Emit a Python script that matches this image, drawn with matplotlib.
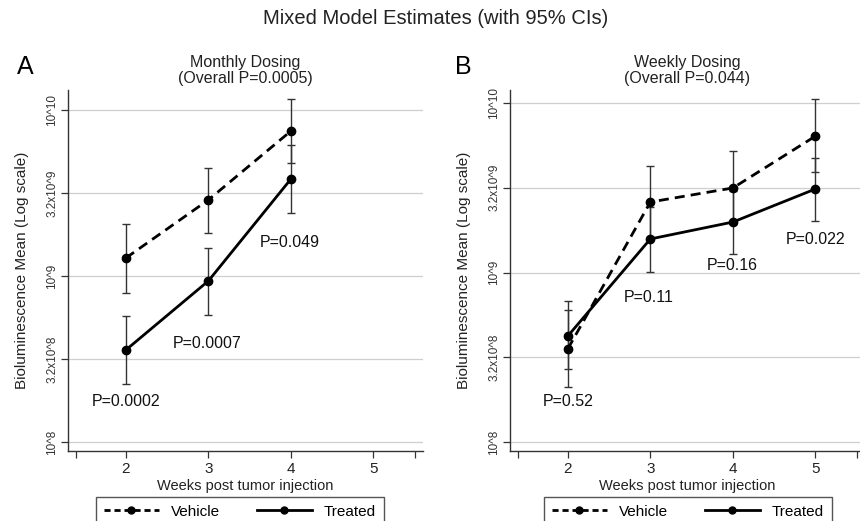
import numpy as np
import matplotlib
matplotlib.use("Agg")
import matplotlib.pyplot as plt
from matplotlib.lines import Line2D

plt.rcParams['font.family'] = ['Liberation Sans', 'DejaVu Sans']

W, H = 860, 521

# 數據 (log10 of bioluminescence)
weeks_a = [2, 3, 4]
vehicle_a = [9.108, 9.458, 9.873]
vehicle_a_lo = [8.898, 9.259, 9.681]
vehicle_a_hi = [9.313, 9.651, 10.066]
treated_a = [8.554, 8.970, 9.584]
treated_a_lo = [8.349, 8.765, 9.379]
treated_a_hi = [8.759, 9.169, 9.789]
pvals_a = ["P=0.0002", "P=0.0007", "P=0.049"]
ppos_a = [(2.0, 8.247), (2.98, 8.596), (3.99, 9.199)]

weeks_b = [2, 3, 4, 5]
vehicle_b = [8.549, 9.416, 9.499, 9.805]
vehicle_b_lo = [8.324, 9.204, 9.286, 9.593]
vehicle_b_hi = [8.779, 9.628, 9.717, 10.024]
treated_b = [8.625, 9.198, 9.298, 9.493]
treated_b_lo = [8.431, 9.003, 9.109, 9.304]
treated_b_hi = [8.832, 9.386, 9.481, 9.676]
pvals_b = ["P=0.52", "P=0.11", "P=0.16", "P=0.022"]
ppos_b = [(2.0, 8.242), (2.98, 8.850), (3.99, 9.044), (5.0, 9.192)]

ytick_vals = [8, 8.5, 9, 9.5, 10]
ytick_labels = ["10^8", "3.2x10^8", "10^9", "3.2x10^9", "10^10"]
xtick_vals = [2, 3, 4, 5]


def px(x, y):
    return x / W, 1 - y / H


fig = plt.figure(figsize=(W / 100, H / 100), dpi=100)
fig.text(*px(436, 18), "Mixed Model Estimates (with 95% CIs)", ha='center', va='center',
         fontsize=14.5, color='#222222')

panels = [
    dict(left=68, ylim=(7.946, 10.120), letter="A", lx=25,
         title=("Monthly Dosing", "(Overall P=0.0005)"),
         weeks=weeks_a, veh=vehicle_a, veh_lo=vehicle_a_lo, veh_hi=vehicle_a_hi,
         trt=treated_a, trt_lo=treated_a_lo, trt_hi=treated_a_hi,
         pv=pvals_a, pp=ppos_a, leg=(240, 497)),
    dict(left=510, ylim=(7.947, 10.077), letter="B", lx=463,
         title=("Weekly Dosing", "(Overall P=0.044)"),
         weeks=weeks_b, veh=vehicle_b, veh_lo=vehicle_b_lo, veh_hi=vehicle_b_hi,
         trt=treated_b, trt_lo=treated_b_lo, trt_hi=treated_b_hi,
         pv=pvals_b, pp=ppos_b, leg=(688, 497)),
]

for p in panels:
    x0, y0 = px(p['left'], 451)
    ax = fig.add_axes([x0, y0, 355 / W, 361 / H])
    ax.set_xlim(1.3, 5.6)
    ax.set_ylim(*p['ylim'])

    for v in ytick_vals:
        ax.axhline(v, color='#cfcfcf', lw=0.9, zorder=0)

    wk = np.array(p['weeks'])
    veh = np.array(p['veh'])
    trt = np.array(p['trt'])
    # 誤差線
    ax.errorbar(wk, veh, yerr=[veh - np.array(p['veh_lo']), np.array(p['veh_hi']) - veh],
                fmt='none', ecolor='#333333', elinewidth=1.0, capsize=2.6, capthick=1.0, zorder=2)
    ax.errorbar(wk, trt, yerr=[trt - np.array(p['trt_lo']), np.array(p['trt_hi']) - trt],
                fmt='none', ecolor='#333333', elinewidth=1.0, capsize=2.6, capthick=1.0, zorder=2)
    ax.plot(wk, veh, color='black', lw=2.0, dashes=(3.6, 2.2), marker='o', ms=6,
            label='Vehicle', zorder=3)
    ax.plot(wk, trt, color='black', lw=2.0, marker='o', ms=6, label='Treated', zorder=3)

    for s, (tx, ty) in zip(p['pv'], p['pp']):
        ax.text(tx, ty, s, ha='center', va='center', fontsize=11.5, color='#111111')

    ax.spines['top'].set_visible(False)
    ax.spines['right'].set_visible(False)
    for sp in ('left', 'bottom'):
        ax.spines[sp].set_color('#333333')
        ax.spines[sp].set_linewidth(1.0)

    ax.set_yticks(ytick_vals)
    ax.set_yticklabels(ytick_labels, rotation=90, va='center', fontsize=8.5, color='#333333')
    ax.set_xticks(xtick_vals)
    ax.set_xticklabels([str(v) for v in xtick_vals], fontsize=11, color='#222222')
    ax.set_xticks([1.4, 5.5], minor=True)
    ax.tick_params(axis='both', which='both', length=5, width=0.9, color='#333333', pad=2)
    ax.tick_params(axis='x', which='major', pad=3)
    ax.set_xlabel("Weeks post tumor injection", fontsize=10.5, color='#222222', labelpad=2)
    ax.set_ylabel("Bioluminescence Mean (Log scale)", fontsize=11, color='#222222')
    ax.yaxis.set_label_coords(-39 / 355, 0.5)

    cx = p['left'] + 355 / 2
    fig.text(*px(cx, 63), p['title'][0], ha='center', va='center', fontsize=11.5, color='#222222')
    fig.text(*px(cx, 79), p['title'][1], ha='center', va='center', fontsize=11.5, color='#222222')
    fig.text(*px(p['lx'], 67), p['letter'], ha='center', va='center', fontsize=18, color='black')

    h1 = Line2D([], [], color='black', lw=2.0, dashes=(2.2, 1.4), marker='o', ms=5)
    h2 = Line2D([], [], color='black', lw=2.0, marker='o', ms=5)
    fig.legend([h1, h2], ['Vehicle', 'Treated'], loc='upper center',
               bbox_to_anchor=px(*p['leg']), ncol=2, fontsize=11, frameon=True,
               fancybox=False, edgecolor='#555555', handlelength=3.6, handletextpad=0.8,
               columnspacing=2.4, borderpad=0.5, borderaxespad=0, numpoints=1, framealpha=1)

fig.savefig("out.png", dpi=100)
